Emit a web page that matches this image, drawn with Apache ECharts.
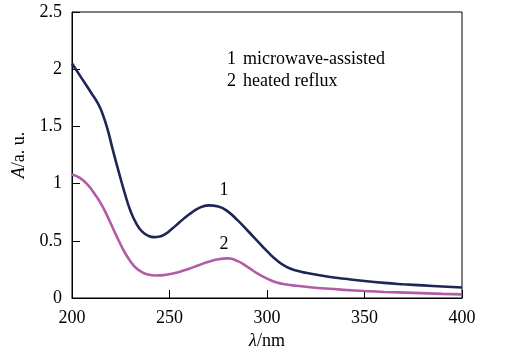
<!DOCTYPE html>
<html>
<head>
<meta charset="utf-8">
<script src="https://cdn.jsdelivr.net/npm/echarts@6/dist/echarts.min.js"></script>
<style>html,body{margin:0;padding:0;background:#fff;}#c{width:513px;height:355px;}</style>
</head>
<body>
<div id="c"></div>
<script>
// Wavelength (nm) and absorbance for each curve
const wavelength1 = [200, 205, 210, 213, 215, 218, 221, 224, 227, 230, 233, 236, 239, 242, 245, 248, 251, 255, 260, 265, 270, 275, 280, 285, 290, 295, 300, 305, 310, 315, 320, 330, 340, 350, 360, 370, 380, 390, 400];
const absorbance1 = [2.05, 1.92, 1.79, 1.71, 1.64, 1.49, 1.29, 1.10, 0.92, 0.76, 0.65, 0.58, 0.545, 0.532, 0.537, 0.56, 0.60, 0.66, 0.73, 0.785, 0.81, 0.80, 0.755, 0.678, 0.59, 0.50, 0.41, 0.33, 0.272, 0.24, 0.22, 0.19, 0.168, 0.148, 0.132, 0.12, 0.11, 0.10, 0.092];
const wavelength2 = [200, 204, 208, 212, 215, 218, 221, 224, 227, 230, 233, 236, 239, 243, 247, 251, 255, 260, 265, 270, 275, 280, 285, 290, 295, 300, 305, 310, 315, 320, 330, 340, 350, 360, 375, 390, 400];
const absorbance2 = [1.08, 1.05, 0.99, 0.90, 0.82, 0.72, 0.61, 0.50, 0.40, 0.32, 0.26, 0.225, 0.205, 0.197, 0.200, 0.212, 0.228, 0.255, 0.287, 0.317, 0.339, 0.346, 0.322, 0.272, 0.215, 0.17, 0.135, 0.118, 0.107, 0.098, 0.083, 0.071, 0.061, 0.053, 0.045, 0.036, 0.032];
const xTicks = [200, 250, 300, 350, 400];
const yTicks = [0, 0.5, 1, 1.5, 2, 2.5];
const legendNumbers = ['1', '2'];
const legendTexts = ['microwave-assisted', 'heated reflux'];
const curveLabelX = [278, 278];
const curveLabelY = [0.945, 0.47];

const FONT = '"Liberation Serif", "Times New Roman", serif';
const colors = ['#1f2656', '#b35ba7'];
const chart = echarts.init(document.getElementById('c'), null, {renderer: 'canvas'});
const pair = (xs, ys) => xs.map((x, i) => [x, ys[i]]);

chart.setOption({
  animation: false,
  backgroundColor: '#fff',
  grid: {left: 72, top: 12, width: 390, height: 291, show: true, borderColor: '#000', borderWidth: 1, backgroundColor: 'transparent'},
  xAxis: {
    type: 'value', min: xTicks[0], max: xTicks[xTicks.length - 1], interval: 50,
    name: '{i|λ}/nm', nameLocation: 'middle', nameGap: 34,
    nameTextStyle: {fontFamily: FONT, fontSize: 18, color: '#000', rich: {i: {fontStyle: 'italic', fontFamily: FONT, fontSize: 18, color: '#000'}}},
    axisLine: {lineStyle: {color: '#000', width: 1}},
    axisTick: {inside: true, length: 8, lineStyle: {color: '#000'}},
    axisLabel: {fontFamily: FONT, fontSize: 18, color: '#000', margin: 11},
    splitLine: {show: false}
  },
  yAxis: {
    type: 'value', min: yTicks[0], max: yTicks[yTicks.length - 1], interval: 0.5,
    name: '{i|A}/a. u.', nameLocation: 'middle', nameGap: 33, nameRotate: 90,
    nameTextStyle: {fontFamily: FONT, fontSize: 18, color: '#000', rich: {i: {fontStyle: 'italic', fontFamily: FONT, fontSize: 18, color: '#000'}}},
    axisLine: {show: true, lineStyle: {color: '#000', width: 1}},
    axisTick: {show: true, inside: true, length: 8, lineStyle: {color: '#000'}},
    axisLabel: {fontFamily: FONT, fontSize: 18, color: '#000', margin: 10},
    splitLine: {show: false}
  },
  series: [
    {type: 'line', data: pair(wavelength1, absorbance1), smooth: 0.5, symbol: 'none', lineStyle: {color: colors[0], width: 2.6}},
    {type: 'line', data: pair(wavelength2, absorbance2), smooth: 0.5, symbol: 'none', lineStyle: {color: colors[1], width: 2.6}}
  ]
});

const graphics = [];
legendNumbers.forEach((n, i) => {
  graphics.push({type: 'text', left: 227, top: 50 + i * 22, style: {text: n, font: '18px ' + FONT, fill: '#000'}});
  graphics.push({type: 'text', left: 243, top: 50 + i * 22, style: {text: legendTexts[i], font: '18px ' + FONT, fill: '#000'}});
  const p = chart.convertToPixel({gridIndex: 0}, [curveLabelX[i], curveLabelY[i]]);
  graphics.push({type: 'text', x: p[0], y: p[1], style: {text: n, font: '18px ' + FONT, fill: '#000', textAlign: 'center', textVerticalAlign: 'middle'}});
});
chart.setOption({graphic: graphics});
</script>
</body>
</html>
